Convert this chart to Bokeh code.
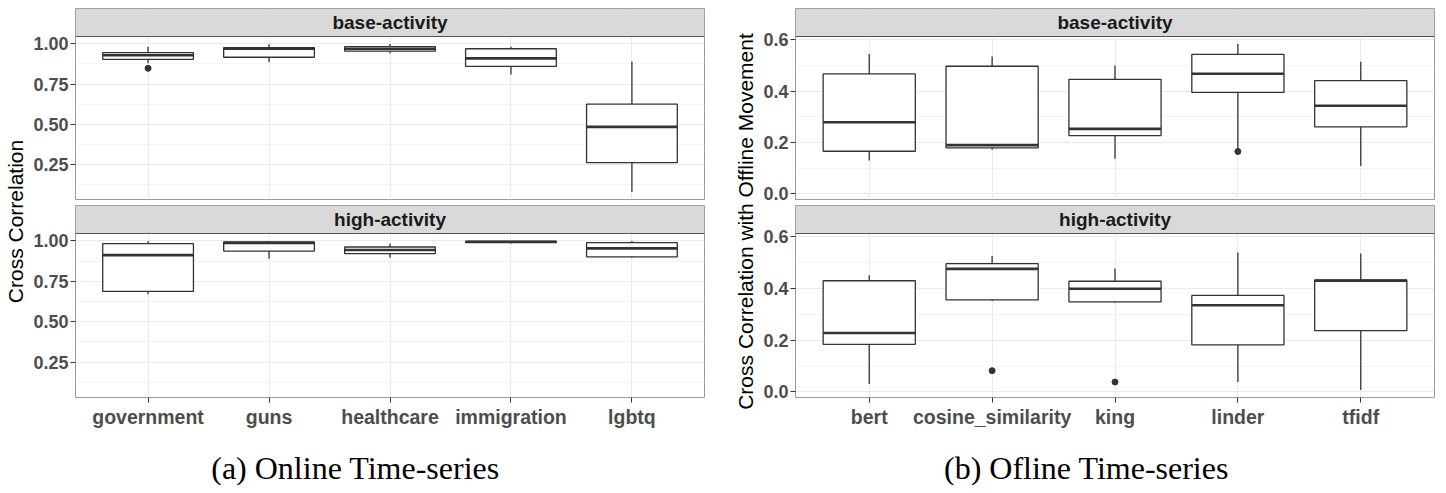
import numpy as np
from bokeh.plotting import figure
from bokeh.layouts import row, column
from bokeh.models import (FactorRange, Range1d, FixedTicker, PrintfTickFormatter, ColumnDataSource,
                          BoxAnnotation, Span)
from bokeh.transform import dodge
from bokeh.embed import file_html
from bokeh.resources import INLINE
from bokeh.core.properties import value

# ---------------- data ----------------
facets = ["base-activity", "high-activity"]
captions = ["(a) Online Time-series", "(b) Ofline Time-series"]

topics = ["government", "guns", "healthcare", "immigration", "lgbtq"]
online_base_lo = [0.879, 0.885, 0.940, 0.810, 0.077]
online_base_q1 = [0.904, 0.917, 0.955, 0.860, 0.260]
online_base_med = [0.929, 0.970, 0.970, 0.910, 0.483]
online_base_q3 = [0.946, 0.977, 0.983, 0.970, 0.625]
online_base_hi = [0.983, 0.998, 1.000, 0.983, 0.890]
online_base_out_cat = ["government"]
online_base_out_val = [0.848]

online_high_lo = [0.670, 0.890, 0.896, 0.985, 0.896]
online_high_q1 = [0.6875, 0.9375, 0.921, 0.990, 0.902]
online_high_med = [0.9125, 0.9875, 0.944, 0.995, 0.954]
online_high_q3 = [0.983, 0.994, 0.9625, 0.998, 0.990]
online_high_hi = [1.000, 1.000, 0.984, 1.000, 1.000]
online_high_out_cat = []
online_high_out_val = []

methods = ["bert", "cosine_similarity", "king", "linder", "tfidf"]
offline_base_lo = [0.130, 0.172, 0.137, 0.175, 0.109]
offline_base_q1 = [0.166, 0.179, 0.227, 0.395, 0.261]
offline_base_med = [0.279, 0.190, 0.253, 0.468, 0.343]
offline_base_q3 = [0.467, 0.497, 0.446, 0.543, 0.441]
offline_base_hi = [0.545, 0.535, 0.500, 0.584, 0.515]
offline_base_out_cat = ["linder"]
offline_base_out_val = [0.165]

offline_high_lo = [0.030, 0.352, 0.345, 0.038, 0.007]
offline_high_q1 = [0.184, 0.356, 0.348, 0.182, 0.237]
offline_high_med = [0.228, 0.476, 0.399, 0.335, 0.430]
offline_high_q3 = [0.430, 0.496, 0.428, 0.373, 0.433]
offline_high_hi = [0.451, 0.526, 0.477, 0.539, 0.535]
offline_high_out_cat = ["cosine_similarity", "king"]
offline_high_out_val = [0.082, 0.038]

online_ticks = [0.25, 0.50, 0.75, 1.00]
online_minor = [0.125, 0.375, 0.625, 0.875]
offline_ticks = [0.0, 0.2, 0.4, 0.6]
offline_minor = [0.1, 0.3, 0.5]

online_ylabel = "Cross Correlation"
offline_ylabel = "Cross Correlation with Offline Movement"

# ---------------- style ----------------
FONT = "Liberation Sans"
LC = "#333333"
BORDER = "#9a9a9a"
STRIP_H = 28
TOP = 8          # page margin offset (the page has none of its own)
LEFT = 8
TOTAL_H = 427 + TOP


def yrange(*lists):
    vals = [v for l in lists for v in l]
    lo, hi = min(vals), max(vals)
    pad = (hi - lo) * 0.05
    return (lo - pad, hi + pad)


def panel(facet, cats, lo, q1, med, q3, hi, oc, ov, yr, ticks, minor, fmt, fw, fh, show_x,
          ml, mr, mt):
    y0, y1 = yr
    per_px = (y1 - y0) / fh
    ytop = y1 + per_px * STRIP_H
    p = figure(x_range=FactorRange(factors=cats, range_padding=0.1, range_padding_units="absolute"),
               y_range=Range1d(y0, ytop), frame_width=fw, frame_height=fh + STRIP_H,
               min_border_left=ml, min_border_right=mr, min_border_top=mt,
               min_border_bottom=38 if show_x else 6,
               x_axis_location="below" if show_x else None, toolbar_location=None, title=None,
               output_backend="svg", outline_line_color=BORDER, background_fill_color="white",
               border_fill_color="white")
    p.yaxis.ticker = FixedTicker(ticks=ticks, minor_ticks=minor)
    p.yaxis.formatter = PrintfTickFormatter(format=fmt)
    p.yaxis.axis_line_color = None
    p.yaxis.major_tick_line_color = LC
    p.yaxis.major_tick_out = 5
    p.yaxis.major_tick_in = 0
    p.yaxis.minor_tick_line_color = None
    p.yaxis.major_label_standoff = 2
    p.yaxis.major_label_text_font = FONT
    p.yaxis.major_label_text_font_style = "bold"
    p.yaxis.major_label_text_font_size = "18px"
    p.yaxis.major_label_text_color = "#4d4d4d"
    if show_x:
        p.xaxis.axis_line_color = None
        p.xaxis.major_tick_line_color = LC
        p.xaxis.major_tick_out = 5
        p.xaxis.major_tick_in = 0
        p.xaxis.major_label_standoff = 3
        p.xaxis.major_label_text_font = FONT
        p.xaxis.major_label_text_font_style = "bold"
        p.xaxis.major_label_text_font_size = "19.5px"
        p.xaxis.major_label_text_color = "#4d4d4d"
    p.grid.grid_line_color = "#ebebeb"
    p.grid.grid_line_width = 1
    p.ygrid.minor_grid_line_color = "#f4f4f4"

    # facet strip (grey header band above the data area)
    p.add_layout(BoxAnnotation(bottom=y1, fill_color="#d9d9d9", fill_alpha=1.0,
                               line_color=BORDER, line_alpha=1.0, line_width=1, level="underlay"))
    p.text(x=[cats[len(cats) // 2]], y=[y1 + per_px * STRIP_H / 2], text=[facet],
           text_align="center", text_baseline="middle", text_font=value(FONT),
           text_font_style="bold", text_font_size="19px", text_color="#1a1a1a")

    src = ColumnDataSource(dict(cat=cats, lo=lo, q1=q1, med=med, q3=q3, hi=hi))
    p.segment(x0="cat", y0="lo", x1="cat", y1="q1", source=src, line_color=LC, line_width=1.3)
    p.segment(x0="cat", y0="q3", x1="cat", y1="hi", source=src, line_color=LC, line_width=1.3)
    p.vbar(x="cat", width=0.75, bottom="q1", top="q3", source=src, fill_color="white",
           line_color=LC, line_width=1.3)
    p.segment(x0=dodge("cat", -0.375, range=p.x_range), x1=dodge("cat", 0.375, range=p.x_range),
              y0="med", y1="med", source=src, line_color=LC, line_width=2.6)
    if oc:
        p.scatter(x=oc, y=ov, size=6, color=LC)
    p.add_layout(Span(location=y1, dimension="width", line_color="#555555", line_width=1.2))
    return p


def ylab(text, w, x):
    f = figure(x_range=Range1d(0, w), y_range=Range1d(0, TOTAL_H), width=w, height=TOTAL_H,
               min_border=0, x_axis_location=None, y_axis_location=None, toolbar_location=None,
               title=None, output_backend="svg", outline_line_color=None, border_fill_color="white")
    f.grid.visible = False
    f.text(x=[x], y=[TOTAL_H - 221], text=[text], angle=np.pi / 2, text_align="center",
           text_baseline="middle", text_font=value(FONT), text_font_size="21px", text_color="black")
    return f


# ---------------- left block ----------------
L_FW, L_ML, L_MR = 629, 45, 8
yr_on = yrange(online_base_lo, online_base_hi, online_base_out_val, online_high_lo, online_high_hi)
p1 = panel(facets[0], topics, online_base_lo, online_base_q1, online_base_med, online_base_q3,
           online_base_hi, online_base_out_cat, online_base_out_val, yr_on, online_ticks,
           online_minor, "%.2f", L_FW, 163, False, L_ML, L_MR, TOP)
p2 = panel(facets[1], topics, online_high_lo, online_high_q1, online_high_med, online_high_q3,
           online_high_hi, online_high_out_cat, online_high_out_val, yr_on, online_ticks,
           online_minor, "%.2f", L_FW, 164, True, L_ML, L_MR, 0)
left = row(ylab(online_ylabel, 22 + LEFT, 7 + LEFT), column(p1, p2))

# ---------------- right block ----------------
R_FW, R_ML, R_MR = 639, 39, 4
yr_off = yrange(offline_base_lo, offline_base_hi, offline_base_out_val,
                offline_high_lo, offline_high_hi, offline_high_out_val)
p3 = panel(facets[0], methods, offline_base_lo, offline_base_q1, offline_base_med, offline_base_q3,
           offline_base_hi, offline_base_out_cat, offline_base_out_val, yr_off, offline_ticks,
           offline_minor, "%.1f", R_FW, 163, False, R_ML, R_MR, TOP)
p4 = panel(facets[1], methods, offline_high_lo, offline_high_q1, offline_high_med, offline_high_q3,
           offline_high_hi, offline_high_out_cat, offline_high_out_val, yr_off, offline_ticks,
           offline_minor, "%.1f", R_FW, 164, True, R_ML, R_MR, 0)
right = row(ylab(offline_ylabel, 44, 32.5), column(p3, p4))

# ---------------- captions ----------------
CAP_W, CAP_H = 1430 + LEFT, 50
cap = figure(x_range=Range1d(0, CAP_W), y_range=Range1d(0, CAP_H), width=CAP_W, height=CAP_H,
             min_border=0, x_axis_location=None, y_axis_location=None, toolbar_location=None,
             title=None, output_backend="svg", outline_line_color=None, border_fill_color="white")
cap.grid.visible = False
cap.text(x=[355, 1086], y=[18, 18], text=captions, text_align="center", text_baseline="middle",
         text_font=value("Liberation Serif"), text_font_size="32px", text_color="black")

layout = column(row(left, right), cap)

open("out.html", "w").write(file_html(layout, INLINE))
